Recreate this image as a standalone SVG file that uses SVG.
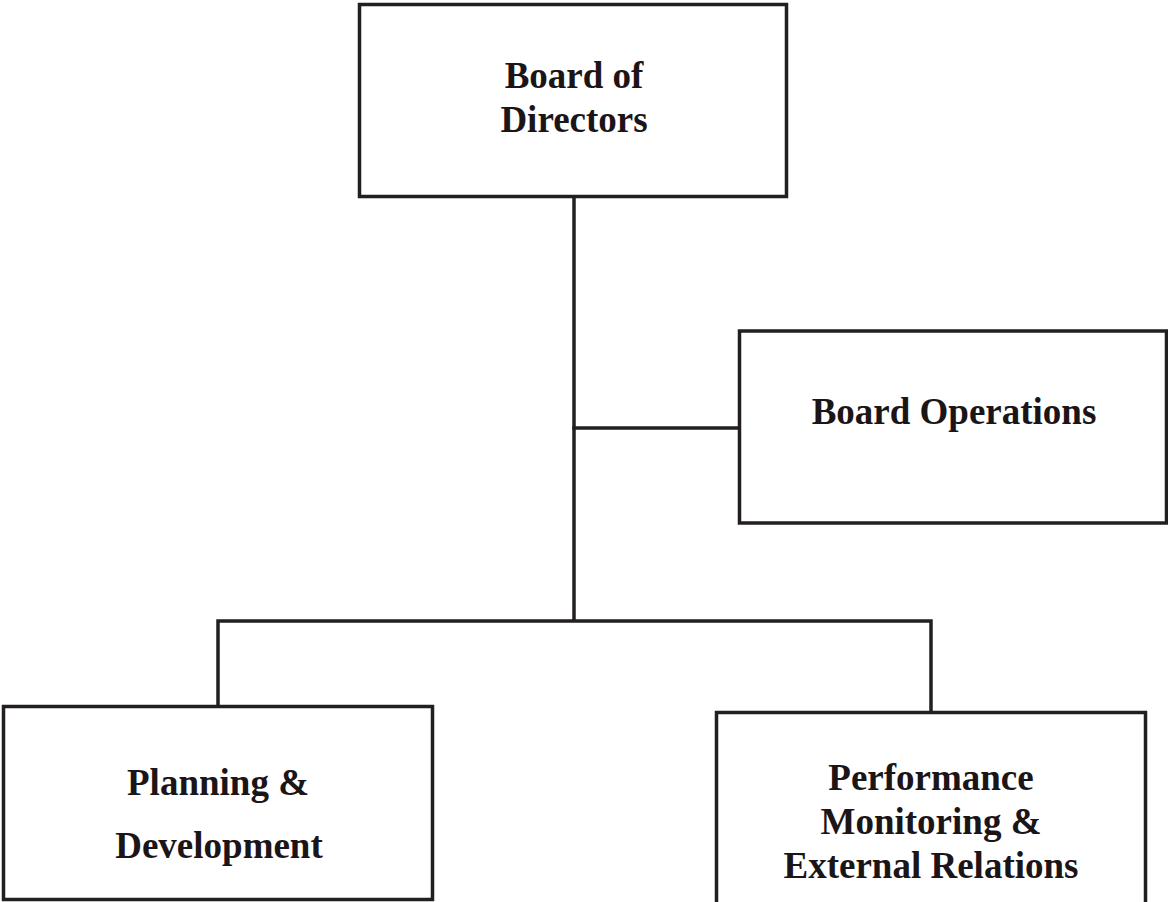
<svg xmlns="http://www.w3.org/2000/svg" width="1168" height="902" viewBox="0 0 1168 902">
<style>
.box{fill:#fff;stroke:#231f20;stroke-width:3.5}
.conn{fill:none;stroke:#231f20;stroke-width:3.5;stroke-linecap:square}
.t{font-family:"Liberation Serif","Times New Roman",serif;font-weight:bold;font-size:37px;fill:#1c1517;text-anchor:middle}
</style>
<rect width="1168" height="902" fill="#fff"/>
<g id="connectors">
<path class="conn" d="M574 197 V620"/>
<path class="conn" d="M574 428 H739"/>
<path class="conn" d="M218 706 V621 H931 V712"/>
</g>
<g id="board-of-directors">
<rect class="box" x="359.5" y="4.5" width="427" height="192"/>
<text class="t" x="574" y="88">Board of</text>
<text class="t" x="574" y="132">Directors</text>
</g>
<g id="board-operations">
<rect class="box" x="739.5" y="331" width="427" height="192"/>
<text class="t" x="954" y="424">Board Operations</text>
</g>
<g id="planning-development">
<rect class="box" x="3.5" y="706.5" width="429" height="193"/>
<text class="t" x="218" y="795">Planning &amp;</text>
<text class="t" x="219" y="858">Development</text>
</g>
<g id="performance-monitoring">
<rect class="box" x="716.5" y="712.5" width="429" height="195"/>
<text class="t" x="931" y="790">Performance</text>
<text class="t" x="931" y="834">Monitoring &amp;</text>
<text class="t" x="931" y="878">External Relations</text>
</g>
</svg>
